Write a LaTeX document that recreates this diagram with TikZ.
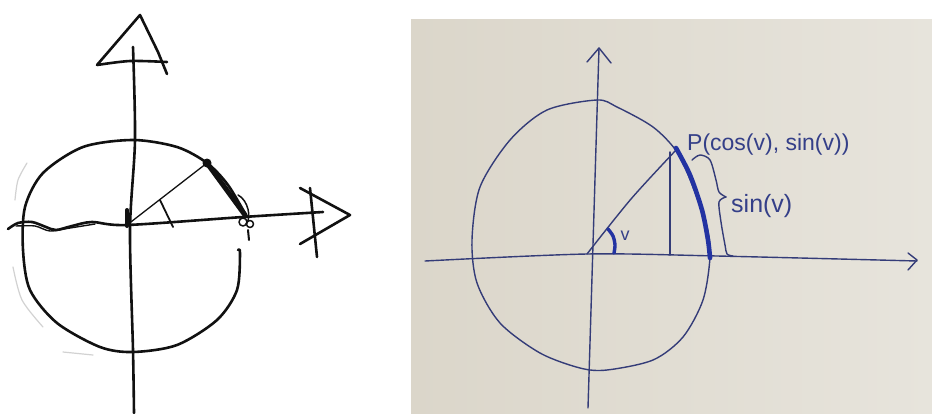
\documentclass[tikz,border=0pt]{standalone}
\usepackage{fontspec}
\setmainfont{Liberation Sans}
\definecolor{pen}{HTML}{111111}
\definecolor{faint}{HTML}{D2D2D2}
\definecolor{paperL}{HTML}{DBD6CA}
\definecolor{paperR}{HTML}{E7E4DC}
\definecolor{ink}{HTML}{343C78}
\definecolor{bold}{HTML}{2333A2}
\definecolor{script}{HTML}{343F88}

\begin{document}
\begin{tikzpicture}[
  x=1pt, y=-1pt,
  sketch/.style={draw=pen, line width=2.6pt, line cap=round, line join=round},
  ghost/.style={draw=faint, line width=1.2pt, line cap=round},
  thin/.style={draw=ink, line width=1.4pt, line cap=round, line join=round},
  thick/.style={draw=bold, line width=4.6pt, line cap=round},
  hand/.style={text=script, inner sep=0pt, font=\fontsize{23}{23}\selectfont}
]
\useasboundingbox (0,0) rectangle (932,413);
\fill[white] (0,0) rectangle (932,413);

% left sketch: axes
\draw[sketch] plot[smooth] coordinates {(133,47) (135,140) (130,230) (133,350) (134,413)};
\draw[sketch] (97,65) -- (140,15) -- (158,52) -- (167,74);
\draw[sketch] plot[smooth] coordinates {(97,65) (130,61) (167,62)};
\draw[sketch] plot[smooth] coordinates {(8,229) (18,223) (32,222) (46,227) (56,230) (72,226) (92,222) (127,225) (243,217) (323,212)};
\draw[sketch, line width=1.4pt] plot[smooth] coordinates {(16,226) (35,226) (50,231) (70,228) (95,224)};
\draw[sketch] (300,188) -- (350,215) -- (300,244);
\draw[sketch] (310,188) -- (317,257);

% left sketch: circle and point
\draw[sketch] plot[smooth] coordinates {(247,217) (228,185) (207,163) (177,147) (133,140) (83,147)
  (43,173) (25,207) (23,250) (30,290) (57,323) (100,347) (133,352) (177,345) (217,320)
  (237,290) (240,253) (238,250)};
\draw[sketch, line width=1.3pt] (127,225) -- (207,163);
\draw[sketch, line width=1.8pt] (160,200) -- (173,227);
\draw[sketch, line width=5pt] (207,163) -- (245,215);
\fill[pen] (207,163) circle (4.5);
\draw[sketch, line width=4pt] (127,210) -- (127,226);
\draw[sketch, line width=1.5pt] (238,195) .. controls (248,200) and (252,218) .. (246,224);
\draw[sketch, line width=1.5pt] (243,222) circle (4);
\draw[sketch, line width=1.5pt] (250,224) circle (3.5);
\draw[sketch, line width=2pt] (248,230) -- (249,240);

% left sketch: faint pencil traces
\draw[ghost] plot[smooth] coordinates {(27,163) (18,180) (15,200)};
\draw[ghost] plot[smooth] coordinates {(13,267) (22,300) (43,327)};
\draw[ghost] (63,352) -- (93,355);

% right photo: paper
\shade[left color=paperL, right color=paperR] (411,19) rectangle (932,413);

% right photo: axes
\draw[thin] (599,48) -- (588,408);
\draw[thin] (587,62) -- (599,48) -- (611,63);
\draw[thin] plot[smooth] coordinates {(425,261) (587,254) (717,256) (917,261)};
\draw[thin] (908,253) -- (917,260) -- (908,270);

% right photo: unit circle
\draw[thin] plot[smooth cycle] coordinates {(597,100) (617,107) (653,127) (677,152) (693,187)
  (707,227) (710,257) (703,300) (683,337) (653,360) (607,370) (580,368) (540,353)
  (500,323) (477,283) (472,240) (480,187) (510,140) (547,110)};
\draw[thin] plot[smooth] coordinates {(587,254) (631,199) (677,149)};
\draw[thin] (670,152) -- (670,255);
\draw[thick] plot[smooth] coordinates {(676,148) (690,175) (702,210) (708,240) (710,258)};
\draw[thick, line width=3.4pt] plot[smooth] coordinates {(608,229) (613,236) (615,245) (614,253)};

% right photo: brace
\draw[thin] plot[smooth] coordinates {(692,160) (700,155) (710,160) (716,180) (719,192) (726,197)};
\draw[thin] plot[smooth] coordinates {(726,197) (719,202) (721,222) (725,245) (727,254) (733,256)};

% right photo: labels
\node[hand, anchor=west] (point) at (687,145) {P(cos(v), sin(v))};
\node[hand, anchor=west, font=\fontsize{25}{25}\selectfont] (sine) at (731,206) {sin(v)};
\node[hand, font=\fontsize{18}{18}\selectfont] (angle) at (625,236) {v};

\end{tikzpicture}
\end{document}
